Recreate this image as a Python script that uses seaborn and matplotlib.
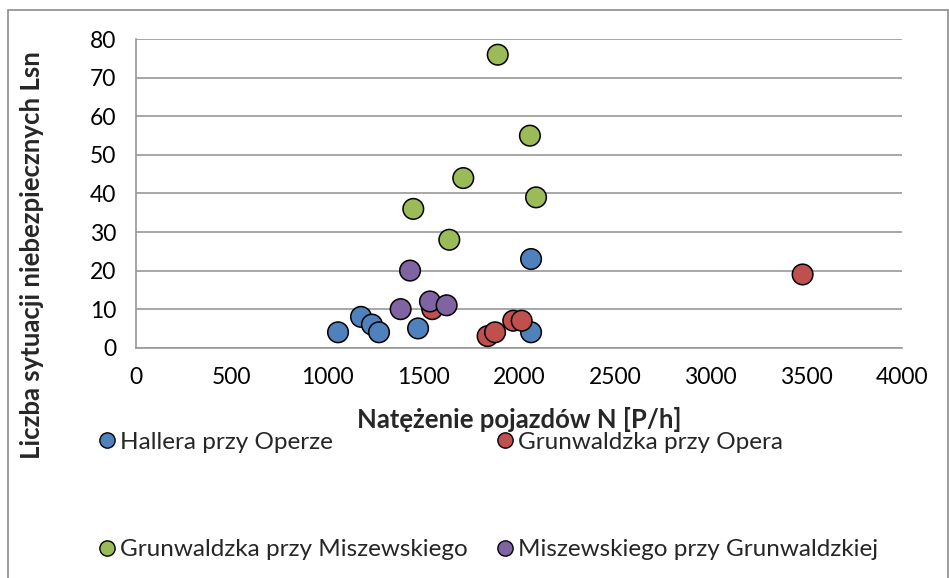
import matplotlib
matplotlib.use("Agg")
import matplotlib.pyplot as plt
from matplotlib.lines import Line2D
from matplotlib.patches import Rectangle
import seaborn as sns
import pandas as pd

# series
hallera_x = [1055, 1175, 1232, 1269, 1473, 2063, 2063]
hallera_y = [4, 8, 6, 4, 5, 23, 4]
grun_opera_x = [1547, 1836, 1875, 1970, 2014, 3481]
grun_opera_y = [10, 3, 4, 7, 7, 19]
grun_misz_x = [1889, 2057, 1709, 2089, 1448, 1636]
grun_misz_y = [76, 55, 44, 39, 36, 28]
misz_x = [1431, 1382, 1535, 1622]
misz_y = [20, 10, 12, 11]

series_names = ["Hallera przy Operze", "Grunwaldzka przy Opera",
                "Grunwaldzka przy Miszewskiego", "Miszewskiego przy Grunwaldzkiej"]
series_colors = ["#4F81BD", "#C0504D", "#9BBB59", "#8064A2"]
x_ticks = [0, 500, 1000, 1500, 2000, 2500, 3000, 3500, 4000]
y_ticks = [0, 10, 20, 30, 40, 50, 60, 70, 80]

frames = []
for name, xs, ys in zip(series_names,
                        [hallera_x, grun_opera_x, grun_misz_x, misz_x],
                        [hallera_y, grun_opera_y, grun_misz_y, misz_y]):
    frames.append(pd.DataFrame({"N": xs, "Lsn": ys, "seria": name}))
df = pd.concat(frames, ignore_index=True)

sns.set_style("white")
plt.rcParams['font.family'] = ['Lato', 'DejaVu Sans']

fig = plt.figure(figsize=(9.49, 5.78), dpi=100)
ax = fig.add_axes([136 / 949, 1 - 347.7 / 578, 766 / 949, 308.4 / 578])

palette = dict(zip(series_names, series_colors))
sns.scatterplot(data=df, x="N", y="Lsn", hue="seria", hue_order=series_names,
                palette=palette, s=220, edgecolor="black", linewidth=1.1,
                alpha=1, legend=False, ax=ax, zorder=3)

ax.set_xlim(0, 4000)
ax.set_ylim(0, 80)
ax.set_xticks(x_ticks)
ax.set_yticks(y_ticks)
ax.tick_params(axis="both", labelsize=16.5, colors="#000000", length=6,
               width=1.2, direction="out", pad=8)
ax.tick_params(axis="both", color="#989898")
ax.grid(axis="y", color="#989898", linewidth=1.2, zorder=0)
ax.set_axisbelow(True)
for side in ["top", "right"]:
    ax.spines[side].set_visible(False)
for side in ["left", "bottom"]:
    ax.spines[side].set_color("#989898")
    ax.spines[side].set_linewidth(1.2)
ax.set_xlabel("")
ax.set_ylabel("")

fig.text(519 / 949, 1 - 419 / 578, "Natężenie pojazdów N [P/h]", ha="center",
         va="center", fontsize=18.5, fontweight="bold")
fig.text(32 / 949, 1 - 255 / 578, "Liczba sytuacji niebezpiecznych Lsn", ha="center",
         va="center", rotation=90, fontsize=18.5, fontweight="bold")

# legend: two columns, column-major order
handles = [Line2D([], [], marker="o", linestyle="", markersize=11,
                  markerfacecolor=c, markeredgecolor="black", markeredgewidth=1.0)
           for c in series_colors]
order = [0, 2, 1, 3]
fig.legend([handles[i] for i in order], [series_names[i] for i in order],
           ncol=2, frameon=False, fontsize=17.5, handletextpad=0.05,
           handlelength=1.0, columnspacing=1.0, labelspacing=3.55,
           loc="upper left", bbox_to_anchor=(73 / 949, 1 - 410 / 578))

fig.patches.append(Rectangle((8 / 949, -0.01), 940 / 949, 1 - 10 / 578 + 0.01,
                             transform=fig.transFigure, fill=False,
                             edgecolor="#8c8c8c", linewidth=1.2))

fig.savefig("out.png", dpi=100)
